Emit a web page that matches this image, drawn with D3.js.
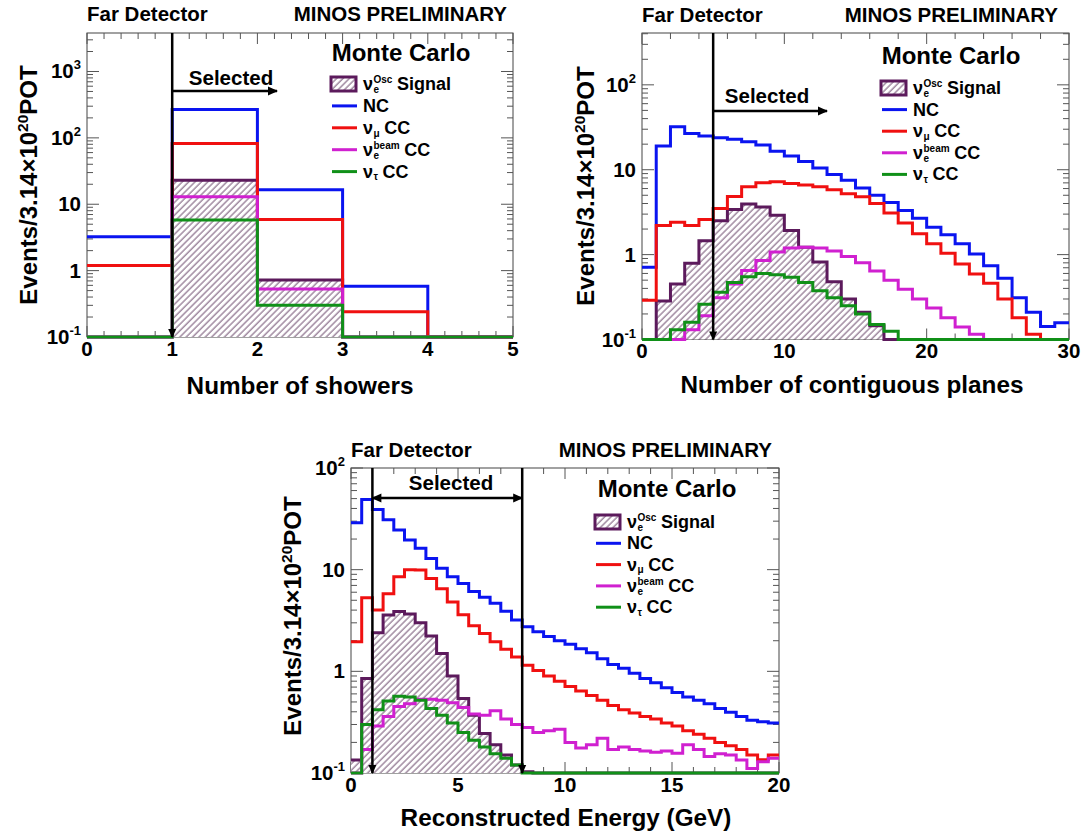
<!DOCTYPE html>
<html>
<head>
<meta charset="utf-8">
<script src="https://cdn.jsdelivr.net/npm/d3@7.9.0/dist/d3.min.js"></script>
<style>
  body { margin: 0; background: #fff; }
  svg text { font-family: "Liberation Sans", Arial, Helvetica, sans-serif; font-weight: bold; fill: #000; }
</style>
</head>
<body>
<svg id="chart" width="1092" height="839"></svg>
<script>
// ---- number of showers (5 bins, width 1)
const showerSignal  = [0, 23, 0.72, 0, 0];
const showerNC      = [3.25, 268, 16.5, 0.58, 0];
const showerNumu    = [1.19, 82, 5.9, 0.24, 0];
const showerNueBeam = [0, 13, 0.53, 0, 0];
const showerNutau   = [0, 5.8, 0.3, 0, 0];

// ---- number of contiguous planes (30 bins, width 1)
const planesSignal  = [0, 0.285, 0.45, 0.79, 1.46, 2.5, 3.4, 3.95, 3.63, 2.9, 1.92, 1.22, 0.82, 0.48, 0.3, 0.21, 0.145, 0.1, 0, 0, 0, 0, 0, 0, 0, 0, 0, 0, 0, 0];
const planesNC      = [0.71, 19, 32, 26.8, 24.9, 23.8, 22.8, 21.3, 19.5, 16.5, 14.5, 12.5, 10.5, 8.8, 7.5, 6.1, 5.0, 4.1, 3.3, 2.69, 2.1, 1.71, 1.34, 1.02, 0.74, 0.525, 0.31, 0.21, 0.142, 0.158];
const planesNumu    = [0.29, 2.2, 2.4, 2.2, 2.6, 3.5, 4.85, 6.3, 7.0, 7.2, 6.9, 6.6, 6.3, 5.8, 5.2, 4.8, 4.0, 3.1, 2.35, 1.76, 1.34, 1.04, 0.776, 0.59, 0.46, 0.3, 0.18, 0.115, 0, 0];
const planesNueBeam = [0, 0, 0.1, 0.13, 0.19, 0.31, 0.45, 0.65, 0.85, 1.07, 1.2, 1.22, 1.2, 1.1, 0.95, 0.8, 0.64, 0.5, 0.39, 0.3, 0.235, 0.18, 0.14, 0.115, 0, 0, 0, 0, 0, 0];
const planesNutau   = [0, 0, 0.13, 0.16, 0.26, 0.36, 0.47, 0.55, 0.6, 0.58, 0.54, 0.47, 0.375, 0.31, 0.25, 0.2, 0.15, 0.125, 0, 0, 0, 0, 0, 0, 0, 0, 0, 0, 0, 0];

// ---- reconstructed energy (40 bins, width 0.5 GeV)
const energySignal  = [0.134, 0.85, 2.4, 3.58, 3.87, 3.66, 3.0, 2.23, 1.5, 0.9, 0.54, 0.37, 0.245, 0.19, 0.15, 0.12, 0.103, 0, 0, 0,
                       0, 0, 0, 0, 0, 0, 0, 0, 0, 0, 0, 0, 0, 0, 0, 0, 0, 0, 0, 0];
const energyNC      = [29, 49, 39, 31, 24.5, 19.6, 16.2, 12.9, 10.3, 8.5, 7.3, 6.1, 5.35, 4.67, 3.9, 3.2, 2.75, 2.45, 2.2, 2.0,
                       1.85, 1.67, 1.52, 1.33, 1.17, 1.07, 0.955, 0.85, 0.77, 0.69, 0.62, 0.56, 0.52, 0.48, 0.43, 0.395, 0.36, 0.33, 0.32, 0.31];
const energyNumu    = [1.95, 5.3, 4.0, 5.8, 8.5, 10.0, 9.9, 8.2, 6.5, 4.8, 3.6, 2.8, 2.35, 1.95, 1.65, 1.38, 1.15, 1.02, 0.9, 0.8,
                       0.71, 0.64, 0.58, 0.52, 0.46, 0.42, 0.39, 0.36, 0.34, 0.31, 0.29, 0.26, 0.24, 0.22, 0.2, 0.185, 0.17, 0.15, 0.135, 0.15];
const energyNueBeam = [0, 0.17, 0.29, 0.36, 0.45, 0.48, 0.53, 0.53, 0.52, 0.49, 0.44, 0.38, 0.37, 0.41, 0.34, 0.3, 0.28, 0.25, 0.26, 0.27,
                       0.2, 0.176, 0.19, 0.22, 0.17, 0.18, 0.17, 0.165, 0.16, 0.165, 0.156, 0.19, 0.17, 0.145, 0.155, 0.15, 0.134, 0.111, 0.129, 0.14];
const energyNutau   = [0, 0.3, 0.42, 0.51, 0.57, 0.56, 0.52, 0.43, 0.37, 0.31, 0.25, 0.21, 0.18, 0.155, 0.14, 0.12, 0, 0, 0, 0,
                       0, 0, 0, 0, 0, 0, 0, 0, 0, 0, 0, 0, 0, 0, 0, 0, 0, 0, 0, 0];

const colors = { signal: '#5c1a5c', nc: '#0a14f0', numu: '#f01010', nue: '#d020d0', nutau: '#109018' };

const svg = d3.select('#chart');
const defs = svg.append('defs');
const pat = defs.append('pattern').attr('id', 'hatch').attr('patternUnits', 'userSpaceOnUse')
  .attr('width', 4.5).attr('height', 4.5).attr('patternTransform', 'rotate(45)');
pat.append('rect').attr('width', 4.5).attr('height', 4.5).attr('fill', '#fff');
pat.append('line').attr('x1', 1).attr('y1', 0).attr('x2', 1).attr('y2', 4.5)
  .attr('stroke', '#7d5f7d').attr('stroke-width', 1.1);

const panels = [
  {
    left: 87, right: 513, top: 33, bottom: 337, xDomain: [0, 5], binW: 1, yMax: 3800,
    xMajor: d3.range(0, 6, 1), xMinor: d3.range(0, 5.01, 0.2), tickLabelY: 356,
    data: { signal: showerSignal, nc: showerNC, numu: showerNumu, nue: showerNueBeam, nutau: showerNutau },
    xTitle: 'Number of showers', xTitleX: 300, xTitleY: 394, yTitleX: 37, yTitleY: 185,
    titleY: 21, prelimX: 507,
    cuts: [1], arrowY: 91, arrowEnd: 277, selX: 231, selY: 85,
    legend: { mcX: 401, mcY: 61, x: 331, y0: 84, dy: 21.9 }
  },
  {
    left: 642, right: 1069, top: 33, bottom: 339.5, xDomain: [0, 30], binW: 1, yMax: 408,
    xMajor: [0, 10, 20, 30], xMinor: d3.range(0, 30.1, 2), tickLabelY: 358,
    data: { signal: planesSignal, nc: planesNC, numu: planesNumu, nue: planesNueBeam, nutau: planesNutau },
    xTitle: 'Number of contiguous planes', xTitleX: 852, xTitleY: 393, yTitleX: 594, yTitleY: 186,
    titleY: 22, prelimX: 1058,
    cuts: [5], arrowY: 111, arrowEnd: 827, selX: 767, selY: 103,
    legend: { mcX: 951, mcY: 64, x: 881, y0: 88, dy: 21.6 }
  },
  {
    left: 351, right: 779, top: 468, bottom: 773, xDomain: [0, 20], binW: 0.5, yMax: 100,
    xMajor: [0, 5, 10, 15, 20], xMinor: d3.range(0, 20.1, 1), tickLabelY: 792,
    data: { signal: energySignal, nc: energyNC, numu: energyNumu, nue: energyNueBeam, nutau: energyNutau },
    xTitle: 'Reconstructed Energy (GeV)', xTitleX: 566, xTitleY: 826, yTitleX: 301, yTitleY: 616,
    titleY: 457, prelimX: 772,
    cuts: [1, 8], arrowY: 498, selX: 451, selY: 490,
    legend: { mcX: 667, mcY: 497, x: 595, y0: 522, dy: 21.3 }
  }
];

// one legend entry = one text element: ν, stacked sub/superscript, then the rest
function nuText(g, x, y, sub, sup, rest) {
  const t = g.append('text').attr('x', x).attr('y', y).attr('font-size', 18);
  const nu = t.append('tspan').text('ν');
  const sx = x + nu.node().getComputedTextLength() + 0.5;
  let sw = 0;
  if (sup) {
    const s = t.append('tspan').attr('x', sx).attr('y', y - 6.6).attr('font-size', 10).text(sup);
    sw = Math.max(sw, s.node().getComputedTextLength());
  }
  if (sub) {
    const s = t.append('tspan').attr('x', sx).attr('y', y + 2.8).attr('font-size', 10).text(sub);
    sw = Math.max(sw, s.node().getComputedTextLength());
  }
  t.append('tspan').attr('x', sx + sw + 4.5).attr('y', y).text(rest);
}

function decadeLabel(g, xPos, yPos, v) {
  const t = g.append('text').attr('x', xPos).attr('y', yPos).attr('text-anchor', 'end').attr('font-size', 20.5);
  const e = Math.round(Math.log10(v));
  if (e === 0) { t.text('1'); return; }
  if (e === 1) { t.text('10'); return; }
  t.append('tspan').text('10');
  t.append('tspan').attr('dy', -9).attr('font-size', 13).text(String(e));
}

function drawPanel(p) {
  const g = svg.append('g');
  const ymin = 0.1;
  const x = d3.scaleLinear().domain(p.xDomain).range([p.left, p.right]);
  const y = d3.scaleLog().domain([ymin, p.yMax]).range([p.bottom, p.top]);
  const cy = v => y(Math.max(v, ymin));

  const pts = vals => vals.map((v, i) => [p.xDomain[0] + i * p.binW, v])
    .concat([[p.xDomain[0] + vals.length * p.binW, vals[vals.length - 1]]]);
  const line = d3.line().x(d => x(d[0])).y(d => cy(d[1])).curve(d3.curveStepAfter);
  const area = d3.area().x(d => x(d[0])).y0(p.bottom).y1(d => cy(d[1])).curve(d3.curveStepAfter);

  // frame
  g.append('rect').attr('x', p.left).attr('y', p.top)
    .attr('width', p.right - p.left).attr('height', p.bottom - p.top)
    .attr('fill', 'none').attr('stroke', '#444').attr('stroke-width', 1);

  // ticks on all four sides
  const tk = g.append('g').attr('stroke', '#555').attr('stroke-width', 1);
  p.xMinor.forEach(t => {
    const len = p.xMajor.includes(+t.toFixed(3)) ? 11 : 6;
    tk.append('line').attr('x1', x(t)).attr('x2', x(t)).attr('y1', p.bottom).attr('y2', p.bottom - len);
    tk.append('line').attr('x1', x(t)).attr('x2', x(t)).attr('y1', p.top).attr('y2', p.top + len);
  });
  const decades = [0.1, 1, 10, 100, 1000].filter(d => d <= p.yMax * 1.0001);
  decades.forEach(d => {
    [1, 2, 3, 4, 5, 6, 7, 8, 9].forEach(k => {
      const v = d * k;
      if (v > p.yMax * 1.0001) return;
      const len = k === 1 ? 12 : 6;
      tk.append('line').attr('y1', y(v)).attr('y2', y(v)).attr('x1', p.left).attr('x2', p.left + len);
      tk.append('line').attr('y1', y(v)).attr('y2', y(v)).attr('x1', p.right).attr('x2', p.right - len);
    });
  });

  // tick labels
  p.xMajor.forEach(t => {
    g.append('text').attr('x', x(t)).attr('y', p.tickLabelY).attr('text-anchor', 'middle')
      .attr('font-size', 20.5).text(t);
  });
  decades.forEach(d => decadeLabel(g, p.left - 6, y(d) + 7, d));

  // histograms
  g.append('path').attr('d', area(pts(p.data.signal))).attr('fill', 'url(#hatch)');
  g.append('path').attr('d', line(pts(p.data.signal))).attr('fill', 'none')
    .attr('stroke', colors.signal).attr('stroke-width', 3);
  ['nc', 'numu', 'nue', 'nutau'].forEach(k => {
    g.append('path').attr('d', line(pts(p.data[k]))).attr('fill', 'none')
      .attr('stroke', colors[k]).attr('stroke-width', 3);
  });

  // selection cuts
  p.cuts.forEach(c => {
    const xc = x(c);
    g.append('line').attr('x1', xc).attr('x2', xc).attr('y1', p.top).attr('y2', p.bottom)
      .attr('stroke', '#000').attr('stroke-width', 2.5);
    g.append('path').attr('d', `M${xc},${p.bottom + 1}L${xc - 4},${p.bottom - 8}L${xc + 4},${p.bottom - 8}Z`)
      .attr('fill', '#000');
  });
  const ax1 = x(p.cuts[0]);
  const ax2 = p.cuts.length > 1 ? x(p.cuts[1]) : p.arrowEnd;
  g.append('line').attr('x1', ax1).attr('x2', ax2).attr('y1', p.arrowY).attr('y2', p.arrowY)
    .attr('stroke', '#000').attr('stroke-width', 2.5);
  g.append('path').attr('d', `M${ax2 + 1},${p.arrowY}L${ax2 - 9},${p.arrowY - 4.5}L${ax2 - 9},${p.arrowY + 4.5}Z`).attr('fill', '#000');
  if (p.cuts.length > 1) {
    g.append('path').attr('d', `M${ax1 - 1},${p.arrowY}L${ax1 + 9},${p.arrowY - 4.5}L${ax1 + 9},${p.arrowY + 4.5}Z`).attr('fill', '#000');
  }
  g.append('text').attr('x', p.selX).attr('y', p.selY).attr('text-anchor', 'middle')
    .attr('font-size', 20.5).text('Selected');

  // titles
  g.append('text').attr('x', p.left).attr('y', p.titleY).attr('font-size', 20.5).text('Far Detector');
  g.append('text').attr('x', p.prelimX).attr('y', p.titleY).attr('text-anchor', 'end')
    .attr('font-size', 20.5).text('MINOS PRELIMINARY');
  g.append('text').attr('x', p.xTitleX).attr('y', p.xTitleY).attr('text-anchor', 'middle')
    .attr('font-size', 24.3).text(p.xTitle);
  const yt = g.append('text').attr('transform', `translate(${p.yTitleX},${p.yTitleY}) rotate(-90)`)
    .attr('text-anchor', 'middle').attr('font-size', 24);
  yt.append('tspan').text('Events/3.14×10');
  yt.append('tspan').attr('dy', -9).attr('font-size', 15.5).text('20');
  yt.append('tspan').attr('dy', 9).text('POT');

  // legend
  const L = p.legend;
  const lg = g.append('g');
  lg.append('text').attr('x', L.mcX).attr('y', L.mcY).attr('text-anchor', 'middle')
    .attr('font-size', 24).text('Monte Carlo');
  const tx = L.x + 32;
  lg.append('rect').attr('x', L.x).attr('y', L.y0 - 7).attr('width', 25).attr('height', 14)
    .attr('fill', 'url(#hatch)').attr('stroke', colors.signal).attr('stroke-width', 3);
  nuText(lg, tx, L.y0 + 6, 'e', 'Osc', 'Signal');
  const rows = [
    ['nc', null, null, 'NC'],
    ['numu', 'μ', null, 'CC'],
    ['nue', 'e', 'beam', 'CC'],
    ['nutau', 'τ', null, 'CC']
  ];
  rows.forEach((r, i) => {
    const ry = L.y0 + (i + 1) * L.dy;
    lg.append('line').attr('x1', L.x + 1).attr('x2', L.x + 26).attr('y1', ry).attr('y2', ry)
      .attr('stroke', colors[r[0]]).attr('stroke-width', 3);
    if (r[0] === 'nc') {
      lg.append('text').attr('x', tx).attr('y', ry + 6).attr('font-size', 18).text('NC');
    } else {
      nuText(lg, tx, ry + 6, r[1], r[2], r[3]);
    }
  });
}

panels.forEach(drawPanel);
</script>
</body>
</html>
